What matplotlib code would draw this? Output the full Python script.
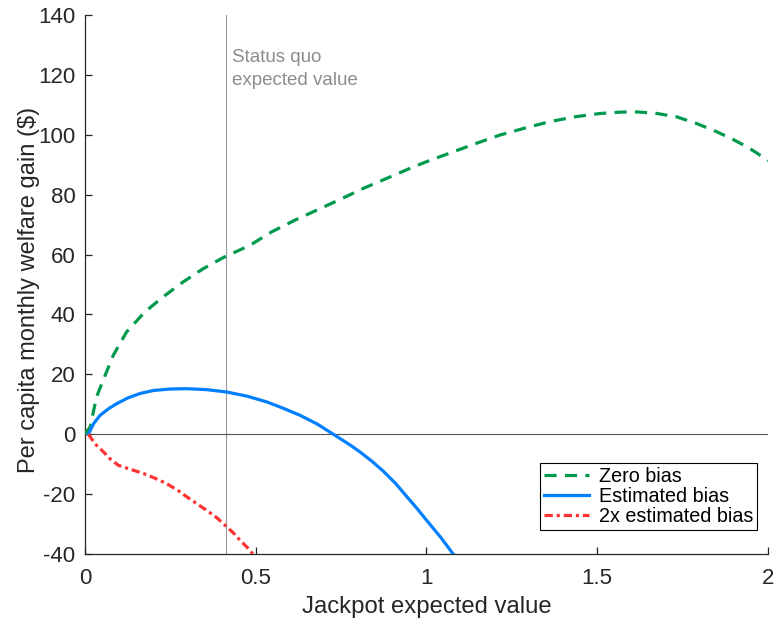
import matplotlib
matplotlib.use("Agg")
import matplotlib.pyplot as plt

plt.rcParams["font.family"] = ["Liberation Sans", "DejaVu Sans"]
plt.rcParams["axes.unicode_minus"] = False

# welfare gain curves, jackpot EV on x, $ per capita per month on y
zero_x = [0, 0.015, 0.034, 0.059, 0.083, 0.122, 0.176, 0.229, 0.288, 0.345, 0.405,
          0.483, 0.547, 0.615, 0.678, 0.747, 0.815, 0.883, 0.952, 1.0, 1.078, 1.15,
          1.215, 1.29, 1.362, 1.435, 1.508, 1.56, 1.605, 1.67, 1.732, 1.79, 1.85,
          1.9, 1.938, 1.97, 2.0]
zero_y = [0, 2.4, 12.5, 19.7, 26.4, 34.2, 40.9, 45.9, 50.9, 55.2, 59.0,
          63.1, 67.6, 71.5, 74.8, 78.4, 82.1, 85.4, 88.8, 91.0, 94.3, 97.3,
          99.9, 102.3, 104.4, 106.0, 107.1, 107.5, 107.7, 107.2, 106.0, 103.8, 101.0,
          98.3, 96.0, 93.7, 91.3]

est_x = [0.01, 0.025, 0.044, 0.07, 0.093, 0.125, 0.161, 0.2, 0.25, 0.298, 0.355,
         0.415, 0.475, 0.532, 0.58, 0.63, 0.68, 0.727, 0.775, 0.805, 0.84, 0.874,
         0.91, 0.942, 0.97, 1.0, 1.04, 1.078]
est_y = [0, 3.5, 6.3, 8.6, 10.2, 12.1, 13.6, 14.6, 15.1, 15.2, 14.9,
         14.1, 12.7, 10.8, 8.7, 6.3, 3.4, 0.0, -3.5, -5.9, -9.0, -12.4,
         -16.5, -20.8, -24.5, -28.7, -34.2, -40.0]

bias2_x = [0.01, 0.03, 0.054, 0.075, 0.098, 0.13, 0.171, 0.205, 0.239, 0.27, 0.298,
           0.33, 0.356, 0.385, 0.41, 0.435, 0.454, 0.475, 0.493]
bias2_y = [0, -3.3, -5.9, -8.4, -10.4, -11.6, -13.1, -14.7, -16.5, -18.6, -20.9,
           -23.4, -25.4, -27.8, -30.4, -33.0, -35.4, -37.8, -40.2]

status_quo_ev = 0.413

fig = plt.figure(figsize=(7.77, 6.19), dpi=100)
ax = fig.add_axes([0.1094, 0.105, 0.879, 0.8708])

ax.axvline(status_quo_ev, color="#999999", lw=0.8, zorder=1)
ax.axhline(0, color="#555555", lw=0.8, zorder=1)

ax.plot(zero_x, zero_y, color="#009a4e", lw=2.3, dashes=(3.8, 2.6), label="Zero bias", zorder=3)
ax.plot(est_x, est_y, color="#0080ff", lw=2.3, label="Estimated bias", zorder=3)
ax.plot(bias2_x, bias2_y, color="#ff3333", lw=2.3, dashes=(2.6, 1.2, 1.0, 1.2),
        label="2x estimated bias", zorder=3)

ax.text(0.43, 128.5, "Status quo\nexpected value", color="#8c8c8c", fontsize=13.5,
        va="top", ha="left", linespacing=1.45)

ax.set_xlim(0, 2)
ax.set_ylim(-40, 140)
ax.set_xticks([0, 0.5, 1, 1.5, 2])
ax.set_xticklabels(["0", "0.5", "1", "1.5", "2"])
ax.set_yticks(range(-40, 141, 20))

for s in ["top", "right"]:
    ax.spines[s].set_visible(False)
for s in ["left", "bottom"]:
    ax.spines[s].set_color("#262626")
    ax.spines[s].set_linewidth(0.9)
ax.tick_params(direction="in", length=5, width=0.9, colors="#262626", labelsize=16)
ax.tick_params(axis="x", pad=10)
ax.tick_params(axis="y", pad=7)

ax.set_xlabel("Jackpot expected value", fontsize=17.2, color="#262626", labelpad=5)
ax.set_ylabel("Per capita monthly welfare gain ($)", fontsize=17, color="#262626")
ax.yaxis.set_label_coords(-0.066, 0.49)

leg = ax.legend(loc="lower right", bbox_to_anchor=(0.984, 0.0445), borderaxespad=0,
                fontsize=14.2, fancybox=False, edgecolor="black", framealpha=1,
                handlelength=2.3, handletextpad=0.5, labelspacing=0.05, borderpad=0.2)
leg.get_frame().set_linewidth(0.8)

fig.savefig("out.png", dpi=100)
